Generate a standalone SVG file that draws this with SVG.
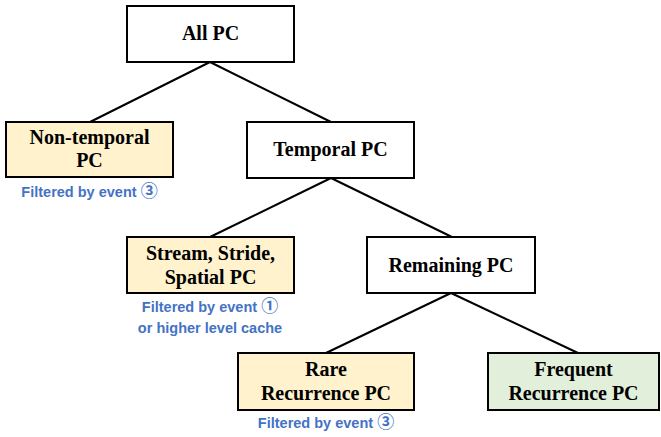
<svg xmlns="http://www.w3.org/2000/svg" width="661" height="437" viewBox="0 0 661 437">
<style>
.box{stroke:#000;stroke-width:2}
.w{fill:#fff}
.y{fill:#fff2cc}
.g{fill:#e2efda}
.t{font-family:"Liberation Serif","Times New Roman",serif;font-weight:bold;font-size:20px;fill:#000;text-anchor:middle}
.n{font-family:"Liberation Sans",Arial,"Noto Sans CJK SC",sans-serif;font-weight:bold;font-size:14.5px;fill:#4472c4;text-anchor:middle}
.d{font-size:17px}
.c{stroke:#000;stroke-width:2;fill:none}
</style>
<rect width="661" height="437" fill="#fff"/>
<g id="connectors">
<line class="c" x1="210" y1="62" x2="90" y2="122"/>
<line class="c" x1="210" y1="62" x2="331" y2="122"/>
<line class="c" x1="331" y1="178" x2="210" y2="237"/>
<line class="c" x1="331" y1="178" x2="452" y2="237"/>
<line class="c" x1="451" y1="293" x2="326" y2="353"/>
<line class="c" x1="451" y1="293" x2="578" y2="353"/>
</g>
<g id="all-pc">
<rect class="box w" x="127" y="6" width="167" height="56"/>
<text class="t" x="210.5" y="40">All PC</text>
</g>
<g id="non-temporal">
<rect class="box y" x="6" y="122" width="167" height="55"/>
<text class="t" x="89.5" y="144">Non-temporal</text>
<text class="t" x="89.5" y="167">PC</text>
<text class="n" x="89.5" y="197">Filtered by event <tspan class="d">③</tspan></text>
</g>
<g id="temporal">
<rect class="box w" x="247" y="122" width="167" height="56"/>
<text class="t" x="330.5" y="156">Temporal PC</text>
</g>
<g id="stream">
<rect class="box y" x="127" y="237" width="167" height="56"/>
<text class="t" x="210.5" y="260">Stream, Stride,</text>
<text class="t" x="210.5" y="284">Spatial PC</text>
<text class="n" x="210" y="312">Filtered by event <tspan class="d">①</tspan></text>
<text class="n" x="210" y="333">or higher level cache</text>
</g>
<g id="remaining">
<rect class="box w" x="367" y="237" width="168" height="56"/>
<text class="t" x="451" y="272">Remaining PC</text>
</g>
<g id="rare">
<rect class="box y" x="238" y="353" width="176" height="57"/>
<text class="t" x="326" y="376">Rare</text>
<text class="t" x="326" y="400">Recurrence PC</text>
<text class="n" x="326" y="428">Filtered by event <tspan class="d">③</tspan></text>
</g>
<g id="frequent">
<rect class="box g" x="488" y="353" width="171" height="57"/>
<text class="t" x="573.5" y="376">Frequent</text>
<text class="t" x="573.5" y="400">Recurrence PC</text>
</g>
</svg>
